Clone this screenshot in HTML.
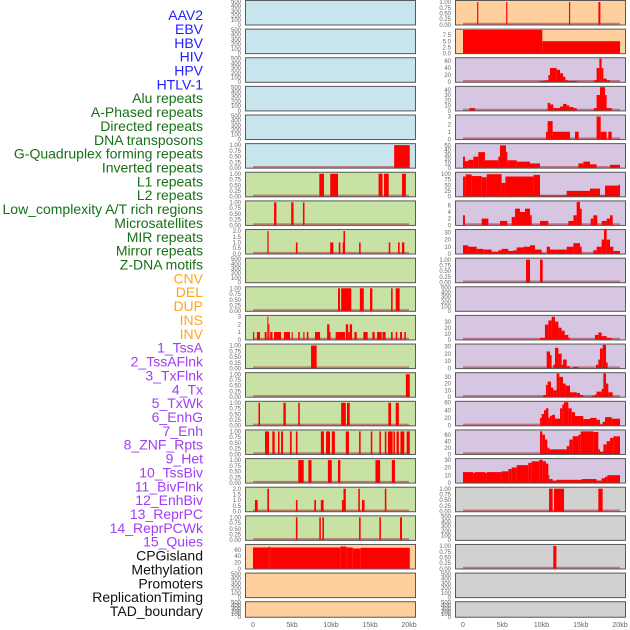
<!DOCTYPE html>
<html><head><meta charset="utf-8">
<style>
html,body{margin:0;padding:0;background:#fff;}
svg{display:block;font-family:"Liberation Sans",sans-serif;}
</style></head>
<body>
<svg id="chart" width="630" height="630" viewBox="0 0 630 630"></svg>
<script>
// ---------- track labels ----------
const labelNames = ["AAV2","EBV","HBV","HIV","HPV","HTLV-1","Alu repeats","A-Phased repeats","Directed repeats","DNA transposons","G-Quadruplex forming repeats","Inverted repeats","L1 repeats","L2 repeats","Low_complexity A/T rich regions","Microsatellites","MIR repeats","Mirror repeats","Z-DNA motifs","CNV","DEL","DUP","INS","INV","1_TssA","2_TssAFlnk","3_TxFlnk","4_Tx","5_TxWk","6_EnhG","7_Enh","8_ZNF_Rpts","9_Het","10_TssBiv","11_BivFlnk","12_EnhBiv","13_ReprPC","14_ReprPCWk","15_Quies","CPGisland","Methylation","Promoters","ReplicationTiming","TAD_boundary"];
const labelGroups = [0,0,0,0,0,0,1,1,1,1,1,1,1,1,1,1,1,1,1,2,2,2,2,2,3,3,3,3,3,3,3,3,3,3,3,3,3,3,3,4,4,4,4,4];
const groupColors = ["#1f1fff","#167016","#ffa51e","#a23cf5","#111111"];

// ---------- x axis ----------
const xTicks = [0,5,10,15,20];
const xTickLabels = ["0","5kb","10kb","15kb","20kb"];

// ---------- y tick sets ----------
const t01 = [0,0.25,0.5,0.75,1]; const t01L = ["0.00","0.25","0.50","0.75","1.00"];
const t500 = [0,100,200,300,400,500]; const t500L = ["0","100","200","300","400","500"];
const t2 = [0,0.5,1,1.5,2]; const t2L = ["0.0","0.5","1.0","1.5","2.0"];
const t3 = [0,1,2,3]; const t3L = ["0","1","2","3"];
const t30 = [0,10,20,30]; const t30L = ["0","10","20","30"];
const t40 = [0,10,20,30,40]; const t40L = ["0","10","20","30","40"];
const t50 = [0,10,20,30,40,50]; const t50L = ["0","10","20","30","40","50"];
const t60 = [0,20,40,60]; const t60L = ["0","20","40","60"];
const t100 = [0,25,50,75,100]; const t100L = ["0","25","50","75","100"];
const t75 = [0,2.5,5,7.5]; const t75L = ["0.0","2.5","5.0","7.5"];
const t6 = [0,2,4,6]; const t6L = ["0","2","4","6"];

// ---------- left column segments [startKb, endKb, value] ----------
const L06 = [[18.1,20.1,1]];
const L07 = [[8.5,9.1,1],[9.9,10.9,1],[16.1,16.6,1],[16.8,17.4,1],[19.1,19.6,1]];
const L08 = [[2.7,3.0,1],[4.9,5.2,1],[6.4,6.6,1]];
const L09 = [[1.84,2.0,2],[5.5,5.7,1],[9.9,10.3,1],[11.0,11.2,1],[11.5,11.6,1],[11.6,11.8,2],[13.6,13.8,1],[17.4,17.6,1],[18.6,18.8,1],[19.1,19.4,1]];
const L11 = [[10.9,11.15,1],[11.3,12.6,1],[13.7,14.2,1],[15.0,15.3,1],[17.7,17.9,1],[18.3,18.8,1]];
const L12 = [[0,0.15,1],[0.5,0.9,1],[1.5,1.75,1],[1.84,1.97,3],[1.97,2.1,2],[2.2,2.5,1],[2.7,3.6,1],[3.97,4.74,1],[4.96,5.1,1],[5.8,6.0,1],[6.45,6.6,1],[6.9,7.1,1],[7.95,8.6,1],[9.5,9.8,2],[9.8,9.95,1],[10.6,10.85,1],[10.85,11.8,1],[11.9,12.2,2],[12.2,12.4,1],[12.4,12.7,2],[13.0,13.3,1],[14.15,14.7,1],[15.3,15.6,1],[15.9,16.5,1],[16.6,17.0,1],[17.7,17.9,1],[18.3,18.5,1],[18.85,19.1,1],[19.4,19.6,1]];
const L13 = [[7.44,8.16,1]];
const L14 = [[19.6,20.1,1]];
const L15 = [[0.7,0.9,1],[3.9,4.2,1],[5.8,6.0,1],[11.3,11.9,1],[12.05,12.4,1],[17.35,17.7,1],[18.3,18.7,1]];
const L16 = [[1.54,2.05,1],[2.48,2.78,1],[3.2,3.4,1],[3.6,3.85,1],[4.74,4.96,1],[5.5,5.7,1],[8.7,9.1,1],[9.36,9.87,1],[10.1,10.5,1],[11.9,12.3,1],[13.6,13.8,1],[15.1,15.3,1],[16.2,16.4,1],[16.9,17.1,1],[17.3,17.9,1],[18.0,18.2,1],[18.4,18.7,1],[18.9,19.4,1],[19.7,20.1,1]];
const L17 = [[5.8,6.5,1],[7.1,7.5,1],[9.6,10.1,1],[10.9,11.2,1],[15.7,16.3,1],[17.8,18.2,1]];
const L18 = [[0.25,0.6,1],[1.84,2.05,2],[5.5,5.7,1],[7.86,8.08,1],[8.7,9.05,1],[11.4,11.6,1],[11.6,11.9,2],[13.5,13.7,2],[13.97,14.3,1],[16.9,17.1,2]];
const L19 = [[5.5,5.7,1],[8.5,8.7,1],[8.9,9.1,1],[13.6,13.8,1],[16.2,16.4,1],[18.85,19.1,1]];
const L20 = [[0,2.0,67],[2.0,2.2,69],[2.2,11.2,67],[11.2,12.0,70],[12.0,12.8,67],[12.8,13.8,64],[13.8,20.1,66]];

// ---------- right column segments ----------
const R01 = [[1.8,1.95,1],[5.5,5.65,1],[13.5,13.65,1],[17.25,17.5,1]];
const R02 = [[0,10.1,9.6],[10.1,20.0,5]];
const R03 = [[9.81,10.44,3],[10.44,10.87,5],[10.87,11.08,20],[11.08,11.93,40],[11.93,12.36,35],[12.36,12.74,25],[12.74,13.04,15],[13.04,13.42,5],[13.42,14.48,3],[16.68,17.02,5],[17.02,17.37,40],[17.37,17.66,67],[17.66,17.88,40],[17.88,18.3,10],[18.3,18.73,5]];
const R04 = [[0.81,1.53,5],[10.78,11.08,15],[11.08,11.51,12],[11.51,12.36,5],[12.36,12.74,8],[12.74,13.21,13],[13.21,13.55,10],[13.55,14.06,7],[14.06,14.48,5],[16.68,17.02,5],[17.02,17.45,30],[17.45,18.09,45],[18.09,18.3,30],[18.3,18.94,5]];
const R05 = [[10.57,10.78,1],[10.78,11.42,2.4],[11.42,13.63,1],[14.27,14.74,1],[17.02,17.54,3],[17.54,18.3,1],[18.51,18.94,1]];
const R06 = [[0,0.25,25],[0.25,0.68,15],[0.68,1.32,18],[1.32,1.95,25],[1.95,2.8,35],[2.8,4.5,17],[4.5,4.71,25],[4.71,5.48,50],[5.48,5.65,35],[5.65,6.84,17],[6.84,8.54,14],[8.54,9.81,10],[14.7,15.33,10],[15.33,16.18,14],[16.18,17.02,8],[18.73,20.0,7]];
const R07 = [[0,0.36,88],[0.36,1.1,97],[1.1,2.38,90],[2.38,3.02,85],[3.02,4.92,98],[4.92,5.4,60],[5.4,9.0,88],[9.0,9.81,95],[9.81,13.21,5],[13.21,16.18,25],[16.18,17.45,35],[17.45,18.09,5],[18.09,19.8,48],[19.8,20.0,52]];
const R08 = [[0,0.25,3],[2.38,3.23,2],[4.71,5.65,1.3],[6.2,6.63,2.5],[6.63,7.26,5],[7.26,7.9,4],[7.9,8.54,5],[8.54,8.75,3],[9.81,10.87,1.3],[13.42,14.06,1.3],[14.06,14.48,3],[14.48,14.9,7],[14.9,15.12,5],[16.26,16.6,2],[16.6,17.11,3],[17.66,18.3,1.3],[18.3,18.73,2],[18.73,19.07,3]];
const R09 = [[0,0.68,12],[0.68,1.75,10],[1.75,2.59,7],[2.59,3.65,6],[3.65,4.5,3],[4.5,4.92,5],[4.92,5.78,7],[5.78,6.42,4],[6.42,6.84,5],[6.84,7.69,9],[7.69,8.54,10],[8.54,9.17,12],[9.17,10.02,6],[10.02,10.44,1],[10.66,11.08,10],[11.08,11.93,6],[11.93,13.21,6],[13.21,14.06,10],[14.06,14.9,15],[14.9,15.12,10],[16.6,17.02,5],[17.02,17.66,10],[17.66,17.96,20],[17.96,18.3,35],[18.3,18.73,20],[18.73,19.15,10],[19.15,20.0,4]];
const R10 = [[8.03,8.54,1],[9.81,10.15,1]];
const R12 = [[9.81,10.44,3],[10.44,10.87,25],[10.87,11.29,32],[11.29,11.72,38],[11.72,12.15,30],[12.15,12.57,20],[12.57,12.95,15],[12.95,13.42,8],[13.42,13.63,3],[16.82,17.24,8],[17.24,17.66,12],[17.66,18.3,6],[18.3,18.94,3]];
const R13 = [[10.66,11.08,23],[11.08,11.29,18],[11.51,11.72,5],[11.72,12.15,28],[12.15,12.57,20],[12.57,12.74,5],[12.74,13.21,12],[13.21,13.63,3],[14.06,14.7,2],[16.94,17.24,5],[17.24,17.45,12],[17.45,17.79,27],[17.79,18.22,32],[18.22,18.43,8]];
const R14 = [[10.23,10.57,3],[10.57,10.78,18],[10.78,11.21,23],[11.21,11.51,14],[11.51,11.93,10],[11.93,12.27,35],[12.27,12.74,30],[12.74,13.08,20],[13.08,13.63,17],[13.63,14.48,7],[14.48,14.9,6],[14.9,15.33,3],[16.39,16.82,2],[16.82,17.02,4],[17.02,17.66,8],[17.66,17.88,12],[17.88,18.22,35],[18.22,18.51,20],[18.51,19.07,7]];
const R15 = [[9.81,10.02,20],[10.02,10.32,30],[10.32,10.57,40],[10.57,10.87,45],[10.87,11.08,20],[11.08,11.29,25],[11.29,11.72,28],[11.72,12.36,18],[12.36,12.65,45],[12.65,12.87,55],[12.87,13.42,61],[13.42,13.84,45],[13.84,14.27,35],[14.27,15.33,25],[15.33,16.18,17],[16.18,17.02,20],[17.02,17.45,15],[17.45,17.79,3],[17.79,18.09,10],[18.09,18.94,22],[18.94,20.0,18]];
const R16 = [[9.81,10.1,70],[10.1,10.44,60],[10.44,10.74,45],[10.74,11.0,20],[11.0,13.21,15],[13.21,13.55,25],[13.55,13.97,45],[13.97,14.7,55],[14.7,14.99,60],[14.99,16.6,70],[16.6,17.24,68],[17.24,17.45,15],[17.45,17.88,8],[17.88,18.3,30],[18.3,18.73,40],[18.73,19.15,50],[19.15,20.0,55]];
const R17 = [[0,1.32,14],[1.32,1.53,13],[1.53,2.8,14],[2.8,3.02,13],[3.02,4.92,14],[4.92,5.78,15],[5.78,6.2,18],[6.2,6.84,20],[6.84,8.32,23],[8.32,8.75,26],[8.75,9.72,28],[9.72,10.15,30],[10.15,10.57,28],[10.57,10.87,25],[10.87,11.0,10],[11.0,11.42,5],[11.42,11.93,3],[11.93,15.12,4],[15.12,17.02,5],[17.02,17.66,3],[17.66,18.09,6],[18.09,18.39,8],[18.39,20.0,10]];
const R18 = [[10.96,11.42,1],[11.59,12.87,1],[17.24,17.79,1]];
const R20 = [[11.5,11.9,1]];

// ---------- panel definitions ----------
const BLUE="#c8e4ec", GREEN="#c8e1a5", ORANGE="#ffd09e", PURPLE="#d6c6e2", GRAY="#d1d1d1";
const leftPanels = [
 [BLUE,500,t500,t500L,null],[BLUE,500,t500,t500L,null],[BLUE,500,t500,t500L,null],[BLUE,500,t500,t500L,null],[BLUE,500,t500,t500L,null],
 [BLUE,1.03,t01,t01L,L06],[GREEN,1.03,t01,t01L,L07],[GREEN,1.03,t01,t01L,L08],[GREEN,2.06,t2,t2L,L09],[GREEN,500,t500,t500L,null],
 [GREEN,1.03,t01,t01L,L11],[GREEN,3.05,t3,t3L,L12],[GREEN,1.03,t01,t01L,L13],[GREEN,1.03,t01,t01L,L14],[GREEN,1.03,t01,t01L,L15],
 [GREEN,1.03,t01,t01L,L16],[GREEN,1.03,t01,t01L,L17],[GREEN,2.06,t2,t2L,L18],[GREEN,1.03,t01,t01L,L19],[ORANGE,74,t60,t60L,L20],
 [ORANGE,500,t500,t500L,null],[ORANGE,500,t500,t500L,null]];
const rightPanels = [
 [ORANGE,1.03,t01,t01L,R01],[ORANGE,9.6,t75,t75L,R02],[PURPLE,67,t60,t60L,R03],[PURPLE,45,t40,t40L,R04],[PURPLE,3.1,t3,t3L,R05],
 [PURPLE,52,t50,t50L,R06],[PURPLE,103,t100,t100L,R07],[PURPLE,7.1,t6,t6L,R08],[PURPLE,33,t30,t30L,R09],[PURPLE,1.03,t01,t01L,R10],
 [PURPLE,500,t500,t500L,null],[PURPLE,39,t30,t30L,R12],[PURPLE,32,t30,t30L,R13],[PURPLE,35,t30,t30L,R14],[PURPLE,61,t60,t60L,R15],
 [PURPLE,72,t60,t60L,R16],[PURPLE,30.5,t30,t30L,R17],[GRAY,1.03,t01,t01L,R18],[GRAY,500,t500,t500L,null],[GRAY,1.03,t01,t01L,R20],
 [GRAY,500,t500,t500L,null],[GRAY,500,t500,t500L,null]];

const NS="http://www.w3.org/2000/svg";
const svg=document.getElementById('chart');
function mk(tag,attrs,parent){const e=document.createElementNS(NS,tag);for(const k in attrs)e.setAttribute(k,attrs[k]);(parent||svg).appendChild(e);return e;}

// labels
labelNames.forEach((n,i)=>{
  const t=mk('text',{x:203,y:15+i*13.86,'text-anchor':'end',dy:'0.36em','font-size':'14',fill:groupColors[labelGroups[i]]});
  
  
  t.textContent=n;
});

const ROW_PITCH=28.63, PANEL_H=25.5, PW=171;
const cols=[{x0:245,kb0:253,kbs:7.8,panels:leftPanels,name:'left'},{x0:455,kb0:463,kbs:7.85,panels:rightPanels,name:'right'}];

cols.forEach(col=>{
  const xs=kb=>col.kb0+kb*col.kbs;
  col.panels.forEach((p,i)=>{
    const [bg,yMax,ticks,tickL,segs]=p;
    const top=i*ROW_PITCH;
    const h=(i===21)?16.5:PANEL_H;
    const g=mk('g',{});
    
    
    mk('rect',{x:col.x0,y:top,width:PW,height:h,fill:bg},g);
    const yTop=top+1.3, yBase=top+h-0.7;
    const ys=v=>yBase-(v/yMax)*(yBase-yTop);
    if(segs){
      mk('line',{x1:xs(0),x2:xs(20),y1:yBase-1,y2:yBase-1,stroke:'#b0303a','stroke-width':2,'stroke-opacity':0.55},g);
      segs.forEach(s=>{
        const r=mk('rect',{x:xs(s[0]),y:ys(s[2]),width:Math.max(0.8,xs(s[1])-xs(s[0])),height:yBase-ys(s[2]),fill:'#ff0000'},g);
        
        
      });
    }
    mk('rect',{x:col.x0+0.5,y:top+0.5,width:PW-1,height:h-1,fill:'none',stroke:'#5a5a5a','stroke-width':1},g);
    ticks.forEach((tv,j)=>{
      const t=mk('text',{x:col.x0-4,y:ys(tv),'text-anchor':'end',dy:'0.35em','font-size':'6',fill:'#666'},g);
      
      
      t.textContent=tickL[j];
    });
  });
  xTicks.forEach((tv,j)=>{
    const t=mk('text',{x:xs(tv),y:627,'text-anchor':'middle','font-size':'7',fill:'#666'});
    
    
    t.textContent=xTickLabels[j];
  });
});
</script>
</body></html>
